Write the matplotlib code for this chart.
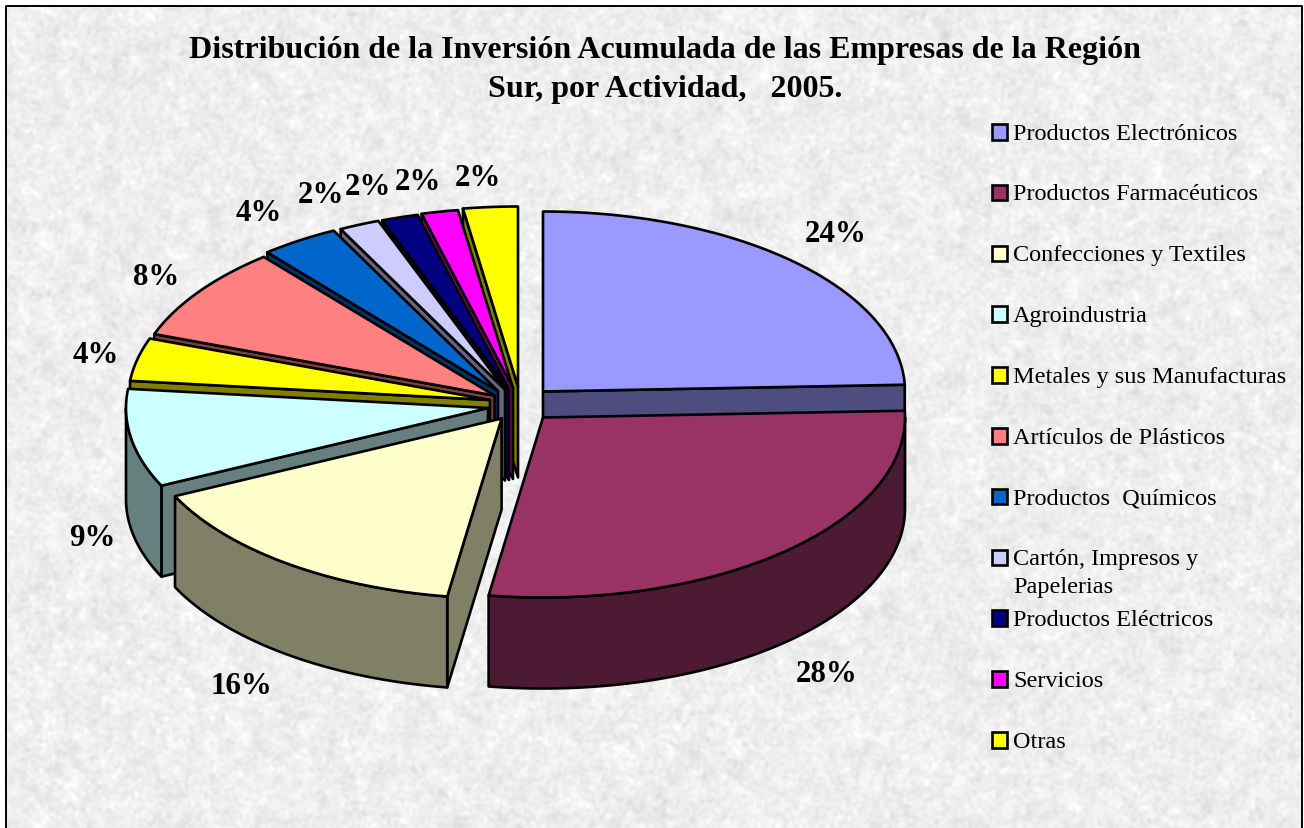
import numpy as np
import matplotlib
matplotlib.use("Agg")
import matplotlib.pyplot as plt
from matplotlib.patches import Polygon, Rectangle
from matplotlib.colors import to_rgb

# ================================
# DATA
# ================================
actividades = [
    "Productos Electrónicos",
    "Productos Farmacéuticos",
    "Confecciones y Textiles",
    "Agroindustria",
    "Metales y sus Manufacturas",
    "Artículos de Plásticos",
    "Productos  Químicos",
    "Cartón, Impresos y\nPapelerias",
    "Productos Eléctricos",
    "Servicios",
    "Otras",
]
valores = [24.4, 28.0, 15.5, 8.8, 3.85, 8.45, 3.5, 1.81, 1.63, 1.63, 2.43]
etiquetas = ["24%", "28%", "16%", "9%", "4%", "8%", "4%", "2%", "2%", "2%", "2%"]
colores = ["#9999FF", "#993366", "#FFFFCC", "#CCFFFF", "#FFFF00", "#FF8080",
           "#0066CC", "#CCCCFF", "#000080", "#FF00FF", "#FFFF00"]
titulo = "Distribución de la Inversión Acumulada de las Empresas de la Región\nSur, por Actividad,   2005."

# ================================
# STYLE / LAYOUT (pixels)
# ================================
explode_dx = [26, 26, -15.4, -29, -27, -22.5, -19, -12, -8, -4, 1]
explode_dy = [-13.5, 12.5, 13.5, 3, -5, -9.4, -14, -15.5, -16, -17, -18.5]
label_xy = [(836, 234), (827, 674), (241, 686), (92, 538), (96, 355), (156, 277),
            (259, 213), (321, 195), (368, 187), (418, 182), (478, 178)]
cx, cy = 517, 406
rx, ry, depth = 362, 180, 91
lw = 1.9
draw_order = [0, 10, 9, 8, 7, 6, 5, 4, 3, 2, 1]
plt.rcParams["font.family"] = ["Liberation Serif"]

fig = plt.figure(figsize=(13.04, 8.29), dpi=100)
ax = fig.add_axes([0, 0, 1, 1])
ax.set_xlim(0, 1304)
ax.set_ylim(829, 0)
ax.axis("off")

# ================================
# MARBLE BACKGROUND
# ================================
rng = np.random.default_rng(5)
h, w = 822, 1296
noise = np.zeros((h, w))
fy = np.fft.fftfreq(h)[:, None]
fx = np.fft.rfftfreq(w)[None, :]
for sigma, amp in [(1.6, 1.0), (5, 0.7)]:
    n = rng.normal(size=(h, w))
    f = np.fft.rfft2(n) * np.exp(-2 * (np.pi * sigma) ** 2 * (fx ** 2 + fy ** 2))
    s = np.fft.irfft2(f, s=(h, w))
    noise += amp * s / s.std()
tex = np.clip(238 + 4 * noise, 200, 255) / 255
ax.imshow(tex, cmap="gray", vmin=0, vmax=1, extent=(6, 1302, 829, 7), aspect="auto", zorder=0)
ax.plot([6, 6, 1302, 1302], [829, 7, 7, 829], color="black", lw=1.4, zorder=1)


# ================================
# PIE
# ================================
def pt(x0, y0, t):
    return x0 + rx * np.sin(t), y0 - ry * np.cos(t)


def poly(xy, color, z):
    ax.add_patch(Polygon(xy, closed=True, facecolor=color, edgecolor="black",
                         lw=lw, joinstyle="round", zorder=z))


total = sum(valores)
cum = np.cumsum([0] + valores) / total * 2 * np.pi
z = 2
for i in draw_order:
    t0, t1 = cum[i], cum[i + 1]
    x0 = cx + explode_dx[i]
    y0 = cy + explode_dy[i]
    dark = tuple(c / 2 for c in to_rgb(colores[i]))

    # side walls, only the ones facing the viewer
    for t, visible in ((t0, t0 > np.pi), (t1, t1 < np.pi)):
        if visible:
            px, py = pt(x0, y0, t)
            poly([(x0, y0), (px, py), (px, py + depth), (x0, y0 + depth)], dark, z)
            z += 1

    # outer rim, front half only
    a = max(t0, np.pi / 2)
    b = min(t1, 3 * np.pi / 2)
    if b > a:
        ts = np.linspace(a, b, 80)
        px, py = pt(x0, y0, ts)
        rim = list(zip(px, py)) + list(zip(px[::-1], py[::-1] + depth))
        poly(rim, dark, z)
        z += 1

    # top face
    ts = np.linspace(t0, t1, 80)
    px, py = pt(x0, y0, ts)
    poly([(x0, y0)] + list(zip(px, py)), colores[i], z)
    z += 1

for (x, y), s in zip(label_xy, etiquetas):
    ax.text(x, y, s, fontsize=22.2, fontweight="bold", ha="center", va="center", zorder=z)

# ================================
# TITLE + LEGEND
# ================================
ax.text(665, 70, titulo, fontsize=23, fontweight="bold", ha="center", va="center",
        linespacing=1.46, zorder=z)

for i, nombre in enumerate(actividades):
    y = 132.5 + i * 60.8
    ax.add_patch(Rectangle((991.5, y - 7.5), 15.5, 15.5, facecolor=colores[i], edgecolor="black",
                           lw=1.9, zorder=z))
    ax.text(1013, y - 9, nombre, fontsize=17.5, ha="left", va="top", linespacing=1.46, zorder=z)

fig.savefig("out.png", dpi=100, facecolor="white")
